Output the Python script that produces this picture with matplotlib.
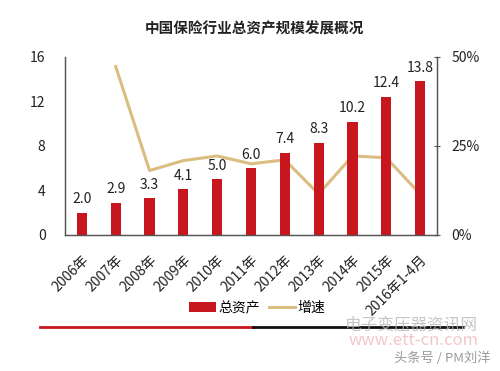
import matplotlib
matplotlib.use("Agg")
import matplotlib.pyplot as plt
from matplotlib.lines import Line2D
from matplotlib.patches import Patch

plt.rcParams['font.family'] = ['Noto Sans CJK SC', 'DejaVu Sans']

years = ["2006年", "2007年", "2008年", "2009年", "2010年", "2011年",
         "2012年", "2013年", "2014年", "2015年", "2016年1-4月"]
assets = [2.0, 2.9, 3.3, 4.1, 5.0, 6.0, 7.4, 8.3, 10.2, 12.4, 13.8]
growth = [None, 47.3, 18.1, 20.9, 22.2, 20.0, 21.1, 11.5, 22.2, 21.7, 11.5]

RED = "#c8161e"
TAN = "#dbbd80"
TXT = "#222222"

fig = plt.figure(figsize=(5.0, 3.71), dpi=100)
ax = fig.add_axes([0.13, 0.3666, 0.744, 0.4798])
ax2 = ax.twinx()

x = list(range(len(years)))
ax.bar(x, assets, width=0.3, color=RED, zorder=2)
for xi, v in zip(x, assets):
    ax.text(xi, v + 0.6, f"{v:.1f}", ha="center", va="bottom",
            fontsize=10, color=TXT)

gx = [xi for xi, g in zip(x, growth) if g is not None]
gy = [g for g in growth if g is not None]
ax2.plot(gx, gy, color=TAN, lw=2.2, zorder=3)

ax.set_xlim(-0.5, len(years) - 0.5)
ax.set_ylim(0, 16)
ax.set_yticks([0, 4, 8, 12, 16])
ax2.set_ylim(0, 50)
ax2.set_yticks([0, 25, 50])
ax2.set_yticklabels(["0%", "25%", "50%"])

for a in (ax, ax2):
    a.spines["top"].set_visible(False)
    for s in ("left", "right", "bottom"):
        a.spines[s].set_color("#555555")
        a.spines[s].set_linewidth(0.9)

ax.tick_params(axis="y", length=0, labelsize=10, labelcolor=TXT, pad=14)
ax2.tick_params(axis="y", direction="inout", length=5, color="#555555",
                labelsize=10, labelcolor=TXT, pad=8)
ax.set_xticks(x)
ax.set_xticklabels(years, rotation=45, ha="right", rotation_mode="anchor",
                   fontsize=10, color=TXT)
ax.tick_params(axis="x", length=0, pad=13)

ax.set_zorder(ax2.get_zorder() + 1)
ax.patch.set_visible(False)

fig.text(0.508, 0.923, "中国保险行业总资产规模发展概况", ha="center", va="center",
         fontsize=10.5, fontweight="bold", color=TXT)

handles = [Patch(facecolor=RED, edgecolor="none"),
           Line2D([], [], color=TAN, lw=2.2)]
fig.legend(handles, ["总资产", "增速"], loc="center", bbox_to_anchor=(0.515, 0.170),
           ncol=2, frameon=False, fontsize=10, handlelength=1.9,
           handleheight=0.7, columnspacing=0.6, handletextpad=0.2)

# decorative rule under the chart
fig.add_artist(Line2D([0.08, 0.505], [0.119, 0.119], color=RED, lw=2))
fig.add_artist(Line2D([0.505, 0.926], [0.119, 0.119], color="#111111", lw=2))

# watermark texts
fig.text(0.956, 0.125, "电子变压器资讯网", ha="right", va="center",
         fontsize=12, color="#b8b8b8", alpha=0.8)
fig.text(0.958, 0.083, "www.ett-cn.com", ha="right", va="center",
         fontsize=12, color="#f0b8c0", alpha=0.8)
fig.text(0.982, 0.035, "头条号 / PM刘洋", ha="right", va="center",
         fontsize=9.5, color="#9a9a9a")

fig.savefig("out.png", dpi=100)
